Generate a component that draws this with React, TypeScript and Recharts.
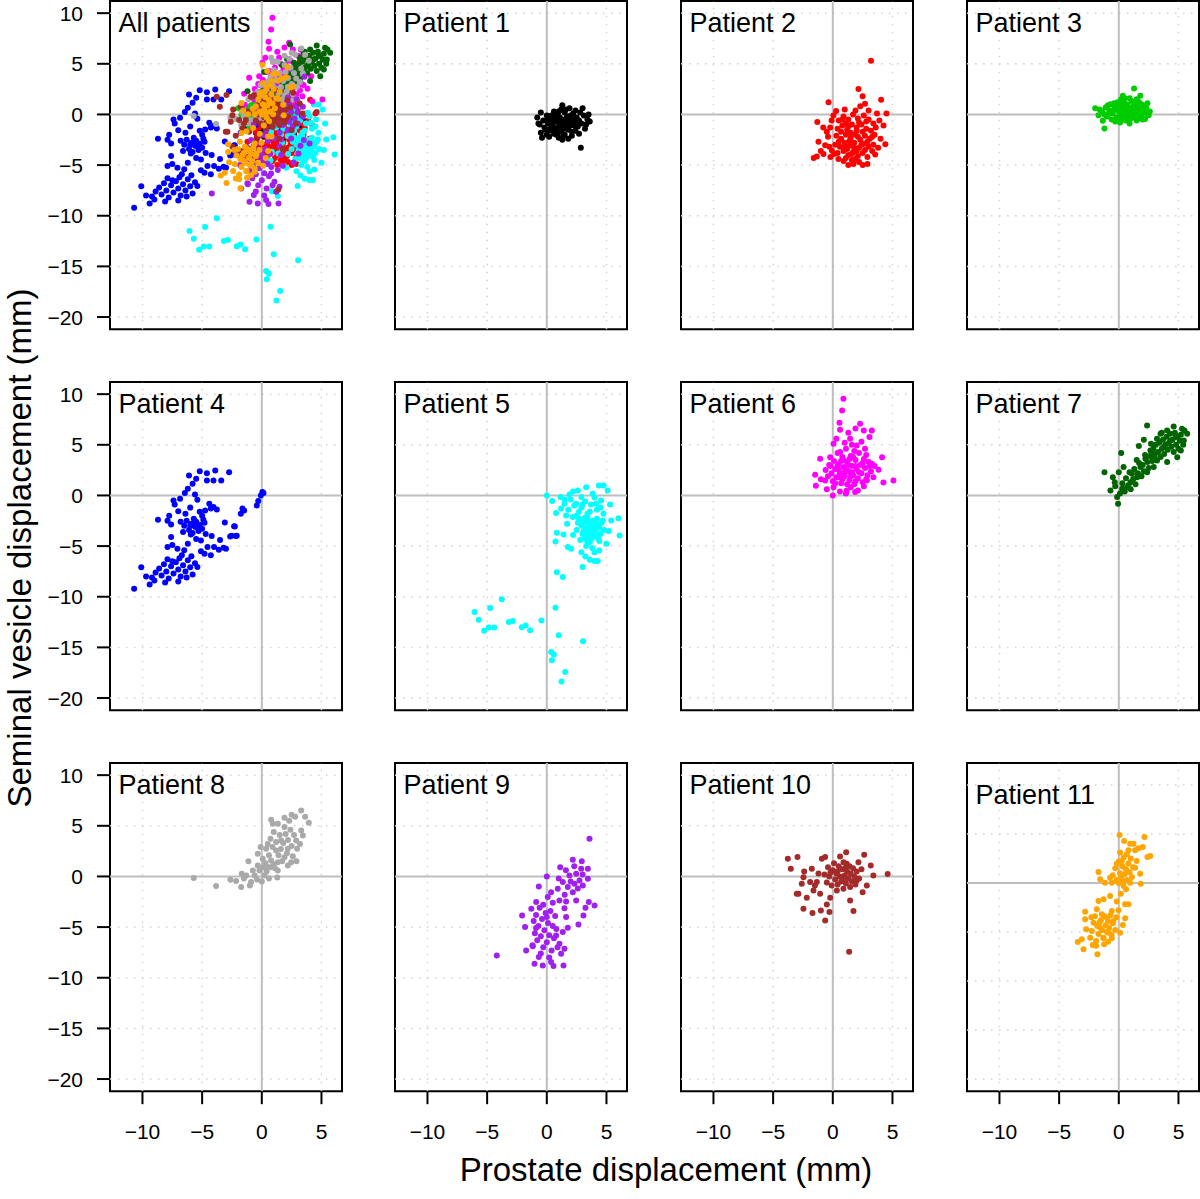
import React from "react";
import { ScatterChart, Scatter, XAxis, YAxis, ReferenceLine, ReferenceArea, ReferenceDot } from "recharts";

// displacement readings (mm): [prostate, seminal vesicle]
const p1 = [
  [-0.8, -0.3], [-0.6, -1.0], [-0.5, -1.8], [-0.3, -0.6], [-0.2, -1.3], [0.0, -0.1], [0.1, -0.9], [0.2, -1.6],
  [0.2, -2.2], [0.4, -0.4], [0.5, -1.1], [0.6, 0.3], [0.6, -1.9], [0.8, -0.7], [0.8, -1.4], [0.9, 0.0],
  [1.0, -2.3], [1.1, -0.3], [1.1, -1.0], [1.2, 0.5], [1.2, -1.7], [1.3, -0.6], [1.4, -1.3], [1.5, 0.2],
  [1.5, -2.0], [1.6, -0.9], [1.7, -0.2], [1.8, -1.5], [1.9, 0.6], [1.9, -0.6], [2.0, -1.1], [2.1, -2.1],
  [2.2, 0.1], [2.3, -0.8], [2.4, -1.6], [2.5, -0.3], [2.6, -1.2], [2.8, 0.2], [2.9, -0.9], [3.1, -0.1],
  [3.2, -1.4], [3.4, -0.5], [3.6, -0.7], [2.85, -3.3], [1.0, -1.2], [0.7, -0.2], [1.5, -0.5], [2.0, -0.1],
  [0.3, -1.4], [1.8, -2.4], [0.0, -2.0], [-0.4, -2.3], [2.7, -1.9], [3.0, 0.6], [1.3, 0.9], [0.9, -0.5],
  [1.7, -1.2], [2.2, -0.5], [0.5, -0.8], [1.4, -2.1], [2.4, 0.4], [0.1, -0.4], [-0.1, -1.5],
  [0.3, -0.9], [0.6, -1.5], [0.9, -1.8], [1.2, -0.8], [1.5, -1.4], [1.8, -0.4], [2.1, -1.7], [2.4, -1.2],
  [2.7, -0.6], [0.4, -0.1], [1.0, 0.3], [1.6, 0.5], [2.0, -0.9], [2.6, -0.9], [3.3, -1.0], [0.8, -2.0],
  [1.3, -2.5], [-0.7, -0.9], [-0.5, 0.2], [3.5, 0.0],
];

const p2 = [
  [3.2, 5.3], [2.15, 2.5], [-0.36, 1.2], [4.05, 1.45], [2.5, 1.8], [2.7, 1.05], [4.5, 0.1], [3.7, 0.1],
  [0.28, 0.33], [0.05, -0.1], [-1.3, -0.75], [-0.8, -1.3], [-0.22, -1.3], [-0.1, -0.6], [-1.2, -2.7],
  [-0.64, -3.05], [-1.6, -4.3], [-1.34, -4.15], [-0.78, -3.9], [-0.08, -3.55], [0.47, -4.4], [1.3, -5.0],
  [1.73, -4.9], [2.5, -5.0], [2.9, -4.9], [3.55, -3.95], [4.4, -2.95], [4.0, -2.4], [4.25, -1.1], [3.9, -0.6],
  [0.5, -0.6], [0.9, -0.2], [1.3, -0.5], [1.7, 0.0], [2.1, -0.4], [2.6, -0.1], [3.0, -0.5], [3.4, -0.9],
  [0.4, -1.4], [0.8, -1.1], [1.2, -1.5], [1.6, -1.0], [2.0, -1.3], [2.4, -1.0], [2.8, -1.4], [3.2, -1.6],
  [0.3, -2.1], [0.7, -2.4], [1.1, -2.0], [1.5, -2.3], [1.9, -2.0], [2.3, -2.5], [2.7, -2.1], [3.1, -2.4],
  [3.5, -2.0], [0.2, -3.0], [0.6, -3.2], [1.0, -2.8], [1.4, -3.1], [1.8, -2.8], [2.2, -3.3], [2.6, -2.9],
  [3.0, -3.2], [3.4, -3.0], [0.4, -3.8], [0.9, -3.6], [1.3, -4.0], [1.7, -3.7], [2.1, -4.1], [2.5, -3.8],
  [2.9, -4.2], [3.3, -3.6], [0.9, -4.6], [1.6, -4.5], [2.2, -4.7], [-0.4, -2.2], [-0.2, -4.2], [-1.0, -3.6],
  [1.0, 0.5], [1.9, 0.4], [2.3, 0.8], [3.0, 0.4], [1.5, -1.8], [2.5, -1.7], [2.0, -3.6], [1.2, -3.4],
  [0.7, -1.7], [1.1, -0.9], [1.4, -2.6], [1.8, -3.3], [2.1, -2.2], [2.4, -3.0], [2.7, -3.5], [1.6, -3.9],
  [1.0, -3.2], [0.5, -2.7], [2.9, -2.7], [3.3, -2.2], [2.0, -1.6], [1.3, -1.2], [0.8, -0.5], [2.2, -0.8],
  [2.8, -0.7], [3.6, -1.3], [1.9, -4.4], [1.1, -4.3], [-0.5, -1.7], [-0.3, -3.2], [3.8, -3.3], [0.1, -3.9],
];

const p3 = [
  [1.28, 2.57], [0.34, 1.84], [1.8, 1.84], [-1.98, 0.6], [-1.7, -0.07], [-1.34, -0.63], [-1.2, -1.38],
  [2.5, -0.07], [2.2, -0.46], [-1.4, 0.3], [-1.1, 0.7], [-1.0, -0.2], [-0.8, 0.4], [-0.7, 1.0], [-0.6, -0.5],
  [-0.5, 0.1], [-0.3, 0.7], [-0.2, -0.3], [-0.1, 1.2], [0.0, 0.3], [0.1, -0.8], [0.2, 0.8], [0.3, -0.2],
  [0.4, 1.4], [0.5, 0.4], [0.6, -0.6], [0.7, 1.0], [0.8, 0.0], [0.9, -0.9], [1.0, 0.6], [1.1, 1.3],
  [1.2, -0.3], [1.3, 0.3], [1.4, 0.9], [1.5, -0.6], [1.6, 0.1], [1.7, 1.2], [1.8, 0.5], [1.9, -0.2],
  [2.0, 0.9], [2.1, 0.2], [2.3, 0.6], [2.4, 1.1], [0.0, -0.4], [0.3, 0.5], [0.6, 0.9], [0.9, 0.3],
  [1.2, 0.8], [-0.4, 0.5], [0.7, -0.2], [1.0, -0.4], [-0.9, 0.0], [0.5, 1.6], [1.5, 1.5], [-0.3, -0.7],
  [1.4, -0.1], [0.2, 0.1], [2.6, 0.3], [0.8, -0.6], [-1.2, 0.0], [-0.9, 0.9], [-0.6, 0.3], [-0.4, 1.1],
  [-0.2, 0.6], [0.0, 1.0], [0.1, -0.1], [0.3, 1.2], [0.4, -0.5], [0.6, 0.2], [0.8, 0.7], [0.9, 1.6],
  [1.0, -0.1], [1.1, 0.4], [1.3, 1.1], [1.4, 0.5], [1.6, 0.7], [1.7, -0.4], [1.9, 1.0], [2.2, 0.4],
  [2.0, -0.5], [0.5, -0.2], [-0.1, -0.6], [0.2, 1.5], [1.2, 0.1], [-1.6, 0.5], [2.4, 0.0], [0.7, 0.5],
];

const p4 = [
  [0.14, 0.23], [-0.08, 0], [-0.3, -0.56], [-0.42, -0.99], [0.05, 0.35], [-1.48, -1.48], [-1.76, -1.8],
  [-1.62, -1.3], [-2.32, -3.03], [-2.1, -3.98], [-2.54, -3.98], [-3.1, -2.66], [-2.74, 2.3], [-3.9, 2.47],
  [-4.6, 2.2], [-5.2, 2.4], [-6.1, 1.97], [-4.6, 1.48], [-4.05, 1.48], [-3.4, 1.48], [-5.5, 1.64],
  [-5.8, 1.15], [-6.2, 0.66], [-6.45, 0.23], [-5.6, 0.1], [-5.4, -0.43], [-7.4, -0.49], [-6.85, -0.33],
  [-7.3, -0.89], [-7.0, -1.55], [-7.76, -2.0], [-8.7, -2.4], [-7.9, -2.5], [-7.6, -2.86], [-4.4, -0.82],
  [-4.05, -1.15], [-3.77, -1.38], [-4.27, -1.3], [-4.75, -1.48], [-6.8, -2.6], [-6.5, -3.0], [-6.3, -2.5],
  [-6.1, -3.4], [-5.9, -2.8], [-5.8, -3.7], [-5.6, -3.1], [-5.5, -2.6], [-5.3, -3.5], [-5.2, -2.9],
  [-5.0, -3.3], [-4.8, -2.7], [-4.7, -3.8], [-6.0, -3.0], [-5.4, -3.2], [-6.6, -3.6], [-4.9, -2.4],
  [-5.7, -2.3], [-7.6, -4.1], [-7.5, -4.9], [-7.9, -5.1], [-7.07, -5.26], [-6.5, -5.4], [-5.5, -4.3],
  [-5.1, -4.44], [-4.55, -5.1], [-4.0, -5.1], [-3.6, -5.36], [-3.2, -5.16], [-3.0, -5.26], [-4.8, -5.76],
  [-4.27, -5.9], [-5.1, -5.5], [-5.95, -3.85], [-6.2, -4.77], [-2.26, -3.06], [-2.65, -4.05], [-2.18, -4.0],
  [-10.1, -7.1], [-10.7, -9.2], [-9.7, -8.0], [-9.4, -8.8], [-9.0, -8.4], [-5.8, -7.8], [-5.4, -7.07],
  [-8.6, -7.2], [-8.4, -7.9], [-8.2, -6.8], [-8.0, -7.5], [-7.8, -8.2], [-7.6, -7.0], [-7.4, -7.7],
  [-7.2, -6.6], [-7.0, -7.3], [-6.8, -8.0], [-6.6, -6.9], [-6.4, -7.5], [-6.2, -6.4], [-6.0, -7.1],
  [-6.9, -6.2], [-7.5, -6.5], [-8.9, -7.6], [-9.2, -8.1], [-8.1, -8.6], [-7.0, -8.5], [-6.3, -8.1],
  [-5.6, -6.7], [-5.9, -6.0], [-6.7, -5.9], [-7.9, -6.3], [-6.0, -1.2], [-6.4, -1.8], [-5.2, -1.6],
  [-5.0, -2.0], [-3.5, -4.4], [-4.2, -4.0],
];

const p5 = [
  [0, 0], [0.45, -0.56], [0.78, -1.74], [0.84, -3.68], [0.73, -4.54], [0.84, -7.57], [1.34, -8.06],
  [3.3, 0.82], [4.36, 0.99], [4.75, 0.99], [5.1, 0.49], [5.3, -0.89], [5.4, -2.47], [6.0, -2.24],
  [6.1, -3.95], [5.2, -3.52], [5.0, -4.77], [4.4, -5.43], [4.27, -6.48], [4.0, -6.48], [3.6, -6.35],
  [3.0, -7.07], [3.24, -6.02], [1.76, -5.1], [2.04, -5.26], [1.4, -3.85], [1.15, -0.16], [1.48, -0.82],
  [1.9, 0.1], [1.2, -1.3], [1.62, -1.97], [2.18, -2.14], [2.46, -0.82], [2.9, -0.16], [3.85, 0.16],
  [4.13, -0.82], [4.55, -0.49], [4.75, -1.8], [4.7, -2.47], [2.7, -2.3], [2.9, -3.0], [3.0, -3.8],
  [3.1, -2.6], [3.2, -4.3], [3.3, -3.3], [3.4, -2.1], [3.5, -3.9], [3.5, -2.8], [3.6, -4.6], [3.7, -3.5],
  [3.8, -2.5], [3.9, -3.1], [3.9, -4.1], [4.0, -2.9], [4.1, -3.6], [4.2, -2.3], [4.3, -4.2], [4.4, -3.2],
  [4.5, -3.8], [3.3, -5.0], [3.8, -5.2], [2.8, -4.4], [2.5, -3.4], [4.6, -2.7], [3.6, -1.6], [2.9, -1.2],
  [2.3, -1.0], [2.0, -0.4], [3.2, -0.6], [3.7, -0.9], [2.6, 0.5], [1.7, -2.8], [2.2, -3.9], [4.2, -1.4],
  [3.4, -1.8], [4.0, -5.6], [2.9, -5.6], [1.8, -1.4], [2.5, -2.0], [3.1, -3.5], [3.4, -2.5], [3.6, -3.0],
  [3.8, -3.8], [4.0, -3.3], [4.2, -4.0], [3.3, -4.0], [3.7, -4.3], [4.1, -2.6], [3.0, -2.9], [3.5, -3.5],
  [3.9, -2.7], [4.3, -3.0], [3.2, -2.2], [4.4, -4.5], [3.4, -4.6], [2.6, -2.7], [4.8, -3.4], [2.7, -1.6],
  [3.0, -0.9], [1.5, -0.4], [2.2, 0.4], [4.0, -0.2], [4.5, -1.2],
  [-3.77, -10.26], [-4.75, -11.1], [-6.06, -11.5], [-5.7, -12.27], [-5.25, -13.36], [-4.86, -13.03],
  [-4.4, -13.03], [-3.18, -12.5], [-2.85, -12.4], [-2.1, -13.0], [-1.78, -12.83], [-1.4, -13.3],
  [-0.45, -12.34], [0.73, -11.09], [1.0, -13.8], [3.04, -14.4], [0.36, -15.46], [0.59, -15.7],
  [0.42, -16.28], [1.54, -17.43], [1.23, -18.36],
];

const p6 = [
  [0.89, 9.54], [0.78, 8.39], [0.56, 7.17], [0.61, 6.48], [0, 0], [-1.48, 2.04], [-1.42, 0.95], [-1.0, 1.61],
  [5.08, 1.48], [4.24, 1.28], [4.13, 3.78], [3.27, 3.12], [3.83, 2.53], [2.85, 1.48], [2.29, 7.07],
  [2.6, 6.4], [3.27, 6.4], [3.07, 5.76], [1.87, 0.33], [1.17, 0.49], [0.06, 0.82], [-0.64, 1.48],
  [-1.06, 3.62], [-0.22, 3.78], [0.06, 5.1], [0.61, 4.28], [1.45, 5.6], [2.0, 4.93], [2.7, 4.6],
  [-0.6, 2.5], [-0.4, 1.9], [-0.3, 3.0], [-0.1, 2.2], [0.0, 1.4], [0.1, 3.4], [0.2, 2.6], [0.3, 1.8],
  [0.4, 4.2], [0.5, 3.1], [0.6, 2.2], [0.7, 1.2], [0.8, 3.8], [0.9, 2.8], [1.0, 1.9], [1.1, 4.6],
  [1.2, 3.3], [1.3, 2.4], [1.4, 1.5], [1.5, 3.9], [1.6, 2.9], [1.7, 2.0], [1.8, 1.1], [1.9, 3.5],
  [2.0, 2.6], [2.1, 1.7], [2.2, 4.2], [2.3, 3.0], [2.4, 2.2], [2.5, 1.3], [2.6, 3.6], [2.7, 2.7],
  [2.9, 2.0], [3.0, 3.3], [3.2, 2.4], [3.4, 1.8], [3.5, 2.9], [1.0, 5.2], [1.6, 5.0], [2.4, 5.3],
  [1.3, 6.2], [1.9, 6.6], [0.3, 5.6], [-0.5, 0.6], [0.6, 0.4], [1.5, 0.8], [2.1, 0.5], [2.6, 0.9],
  [1.1, 0.2], [0.4, 2.9], [1.4, 3.6], [1.8, 4.4], [2.8, 4.0], [0.9, 3.5], [1.2, 1.1], [0.5, 2.5],
  [0.8, 1.6], [1.1, 2.7], [1.3, 3.0], [1.6, 2.3], [1.9, 2.9], [2.2, 2.3], [0.7, 3.4], [1.7, 3.8],
  [2.5, 3.2], [0.2, 1.2], [1.0, 2.3], [1.5, 1.9], [2.8, 1.6], [3.1, 2.9], [-0.2, 2.9], [0.6, 1.8], [1.9, 1.4],
];

const p7 = [
  [2.37, 6.9], [4.6, 6.8], [5.3, 6.58], [5.73, 6.09], [5.45, 5.43], [5.2, 4.44], [4.9, 3.78], [4.05, 3.29],
  [0.2, 4.2], [-1.2, 2.3], [-0.34, 1.3], [0, 2.3], [-0.7, 0.5], [-0.14, -0.16], [-0.06, -0.82], [0.28, 0.66],
  [0.98, 1.3], [1.54, 1.8], [1.82, 2.8], [1.68, 4.87], [2.1, 5.5], [2.65, 4.44], [3.2, 5.6], [3.5, 6.09],
  [4.05, 6.4], [0.7, 0.82], [1.1, 2.14], [2.23, 3.62], [2.93, 4.1], [3.77, 4.77], [4.33, 5.43], [4.75, 5.76],
  [2.37, 2.3], [2.93, 2.8], [3.2, 3.45], [0.1, 0.2], [0.3, 1.2], [0.5, 0.4], [0.6, 1.7], [0.8, 1.0],
  [0.9, 2.3], [1.0, 0.6], [1.2, 1.6], [1.3, 2.6], [1.4, 1.1], [1.6, 2.2], [1.7, 3.2], [1.9, 1.9],
  [2.0, 3.0], [2.1, 2.4], [2.2, 4.0], [2.4, 3.3], [2.5, 2.7], [2.6, 3.9], [2.8, 3.4], [2.9, 4.6],
  [3.0, 3.9], [3.1, 5.0], [3.3, 4.3], [3.4, 5.2], [3.5, 3.8], [3.6, 4.6], [3.7, 5.5], [3.8, 4.1],
  [3.9, 5.0], [4.0, 5.8], [4.1, 4.5], [4.2, 5.2], [4.3, 6.1], [4.4, 4.8], [4.5, 5.5], [4.6, 4.3],
  [4.7, 6.2], [4.8, 5.0], [4.9, 5.8], [5.0, 4.6], [5.1, 5.4], [5.2, 6.0], [5.4, 5.0], [5.5, 6.4],
  [3.6, 6.2], [2.7, 5.1], [1.5, 3.5], [0.4, 2.8], [-0.3, 0.9], [-0.5, 1.8],
];

const p8 = [
  [-5.7, -0.16], [-3.83, -0.95], [-2.63, -0.33], [-2.15, -0.46], [-1.73, -1.05], [-1.12, 1.51], [-0.9, -0.56],
  [0.78, 5.6], [3.3, 6.5], [2.8, 5.9], [3.63, 5.9], [3.94, 5.3], [3.3, 4.54], [3.44, 4.05], [2.88, 3.55],
  [2.96, 2.73], [2.46, 1.41], [2.18, 1.09], [1.34, 0.59], [0.92, 5.2], [0.73, 3.72], [0.36, 2.73],
  [0.08, 1.74], [-0.34, 2.24], [-0.2, 0.59], [-0.6, 0.1], [0.22, 0.1], [1.34, 5.2], [1.9, 4.87], [2.3, 5.5],
  [1.62, 3.55], [1.2, 2.56], [0.78, 1.58], [2.18, 2.73], [1.9, 1.9], [1.34, 1.41], [0.5, 0.92], [-0.34, 1.09],
  [-0.75, 0.59], [-1.3, 0.1], [-1.68, 0.26], [0.3, 1.3], [0.6, 2.1], [0.9, 2.9], [1.0, 1.2], [1.2, 3.4],
  [1.4, 2.1], [1.5, 4.1], [1.6, 2.7], [1.7, 1.5], [1.8, 3.3], [2.0, 4.2], [2.1, 2.3], [2.2, 3.6],
  [2.4, 4.6], [2.5, 3.0], [2.6, 2.0], [2.7, 4.1], [0.4, 0.5], [0.7, 0.9], [1.1, 0.8], [0.1, 0.9],
  [-0.4, -0.3], [0.0, -0.5], [0.6, -0.2], [-1.0, -0.9], [-1.5, -0.2], [1.9, 5.8], [2.5, 6.1], [1.0, 4.4],
  [0.5, 3.2], [-0.1, 2.9], [1.3, -0.1], [2.9, 1.5], [3.2, 3.2],
];

const p9 = [
  [3.58, 3.72], [2.18, 1.64], [2.93, 1.51], [1.12, 0.92], [2.88, 0.76], [3.44, 0.76], [0, 0], [-0.67, -0.99],
  [3.44, -0.23], [3.02, -0.89], [3.52, -2.53], [4.0, -2.86], [3.24, -3.09], [3.07, -3.85], [2.65, -4.74],
  [1.76, -5.07], [1.34, -5.49], [1.48, -7.14], [1.4, -8.78], [0.56, -8.85], [0.36, -8.45], [-0.34, -8.78],
  [-1.03, -8.62], [-0.67, -7.96], [-1.73, -7.3], [-1.17, -6.9], [-1.82, -5.0], [-2.07, -3.85], [-0.89, -2.53],
  [-4.19, -7.8], [1.2, -7.63], [1.06, -6.64], [0.78, -5.82], [1.62, -4.01], [1.48, -3.13], [1.06, -2.37],
  [1.62, -2.47], [2.46, -2.37], [2.18, -1.55], [1.76, -1.05], [1.34, -0.56], [1.9, 0.1], [2.46, 0.26],
  [2.74, -0.39], [2.32, -0.72], [0.92, -1.22], [0.36, -1.55], [0.08, -2.04], [-1.3, -3.2], [-1.1, -4.4],
  [-1.0, -5.6], [-0.9, -3.8], [-0.8, -6.3], [-0.7, -4.9], [-0.6, -3.1], [-0.5, -5.9], [-0.4, -4.2],
  [-0.3, -7.0], [-0.2, -5.3], [-0.1, -3.6], [0.0, -6.5], [0.1, -4.6], [0.2, -5.8], [0.3, -3.4], [0.4, -7.3],
  [0.5, -4.9], [0.6, -6.1], [0.7, -3.9], [0.8, -5.2], [0.9, -7.0], [-1.2, -6.8], [-0.5, -7.6], [0.2, -8.0],
  [-0.9, -5.1], [0.0, -4.0], [-0.3, -2.8], [0.5, -2.6], [1.5, -1.8], [2.0, -0.5], [2.6, -1.2], [1.0, -0.2],
  [2.3, 1.0], [3.0, 0.2], [1.6, 0.6],
];

const p10 = [
  [-3.77, 1.74], [-2.96, 1.91], [-3.52, 0.76], [-2.4, 0.49], [-1.76, 0.76], [-2.46, -0.07], [-2.6, -0.72],
  [-2.88, -1.71], [-3.02, -1.71], [-2.18, -2.1], [-2.46, -3.19], [-1.7, -3.62], [-1.0, -3.36], [-0.64, -4.34],
  [-0.28, -3.52], [-0.5, -2.76], [-0.22, -2.1], [1.45, -2.37], [1.73, -3.42], [1.37, -7.43], [1.12, 2.4],
  [2.63, 2.14], [2.15, 1.41], [3.18, 1.09], [3.4, 0.1], [4.6, 0.23], [2.85, -0.89], [2.5, -1.55], [2.0, -0.39],
  [1.45, -1.05], [0.89, -1.22], [0.34, -1.38], [-0.92, 1.74], [-0.64, 1.91], [0.61, 1.97], [1.17, 1.25],
  [-1.34, -0.56], [-1.62, -1.38], [-1.06, -1.71], [-1.9, -0.56], [-0.7, 0.2], [-0.5, -0.6], [-0.4, 0.9],
  [-0.3, 0.0], [-0.1, -0.9], [0.0, 0.6], [0.1, 1.3], [0.2, -0.3], [0.3, 0.3], [0.4, -0.8], [0.5, 1.0],
  [0.6, 0.0], [0.7, -0.5], [0.8, 0.7], [0.9, 1.4], [1.0, 0.1], [1.1, -0.7], [1.2, 0.5], [1.3, -0.2],
  [1.4, 1.0], [1.5, 0.3], [1.6, -0.5], [1.7, 0.8], [1.8, 0.0], [1.9, -0.8], [2.0, 0.5], [2.2, -0.2],
  [2.4, 0.7], [0.4, 0.5], [0.9, -0.2], [1.1, 0.9], [-0.2, 0.4], [-1.2, 0.3], [-1.5, -0.9],
];

const p11 = [
  [0.06, 4.9], [0.45, 4.29], [0.95, 4.01], [1.23, 4.01], [2.15, 4.69], [2.01, 3.67], [1.65, 3.54], [1.37, 3.33],
  [0.81, 3.33], [0.11, 3.1], [2.4, 2.65], [2.63, 2.76], [0.67, 2.93], [0.25, 2.24], [-0.17, 1.97], [1.5, 2.24],
  [1.37, 1.56], [1.79, 0.95], [1.84, -0.07], [0.95, 0.03], [-0.73, 0.54], [-1.7, 1.12], [-1.56, 0.37],
  [-1.15, 0.03], [-0.59, 0.03], [0.34, 0.14], [0.61, -0.65], [0.17, -1.09], [-0.17, -1.9], [0.53, -2.18],
  [0.81, -2.18], [-0.73, -1.33], [-1.28, -1.67], [-1.7, -1.84], [-1.84, -2.69], [-2.82, -2.93], [-2.82, -3.71],
  [-0.59, -2.86], [-0.03, -2.79], [0.53, -3.61], [0.34, -4.29], [0.11, -5.07], [-0.87, -5.07], [-1.56, -4.56],
  [-2.12, -4.05], [-2.26, -4.9], [-2.74, -4.73], [-2.4, -5.58], [-3.1, -5.75], [-3.44, -6.02], [-2.96, -6.77],
  [-2.18, -6.33], [-1.9, -5.92], [-1.28, -5.58], [-0.59, -5.65], [-1.23, -6.26], [-1.79, -7.28], [-0.45, -3.88],
  [-1.0, -3.54], [-1.42, -3.2], [-0.5, 0.8], [-0.3, 1.5], [-0.2, 0.3], [0.0, 2.2], [0.1, 1.0], [0.2, 0.5],
  [0.3, 1.7], [0.4, 2.6], [0.5, 0.9], [0.6, 1.4], [0.7, 0.3], [0.8, 2.0], [0.9, 1.1], [1.0, 2.5], [1.1, 0.6],
  [1.2, 1.6], [0.0, 0.0], [0.4, -0.3], [-2.0, -3.4], [-1.8, -4.4], [-1.7, -5.2], [-1.5, -3.8], [-1.4, -4.8],
  [-1.3, -5.6], [-1.2, -3.4], [-1.1, -4.3], [-1.0, -5.0], [-0.9, -3.9], [-0.8, -4.6], [-0.7, -3.3],
  [-0.6, -5.3], [-0.5, -4.1], [-0.3, -4.8], [-0.2, -3.5], [-1.6, -4.0], [-0.9, -6.0], [-2.3, -3.5], [-1.9, -6.4],
];

const patients = [p1, p2, p3, p4, p5, p6, p7, p8, p9, p10, p11].map((arr) =>
  arr.map(([x, y]) => ({ x, y }))
);
const colors = ["#000000", "#FF0000", "#00CD00", "#0000FF", "#00FFFF", "#FF00FF", "#006400", "#A9A9A9", "#A020F0", "#A52A2A", "#FFA500"];
const titles = ["All patients", "Patient 1", "Patient 2", "Patient 3", "Patient 4", "Patient 5", "Patient 6",
  "Patient 7", "Patient 8", "Patient 9", "Patient 10", "Patient 11"];

const xTicks = [-10, -5, 0, 5];
const yTicks = [-20, -15, -10, -5, 0, 5, 10];
const xGrid = [-10, -5, 5];
const yGrid = [-20, -15, -10, -5, 5, 10];

const X_DOMAIN = [-12.72, 6.72];
const Y_DOMAIN = [-21.2, 11.2];
const Y_DOMAIN_11 = [-21.24, 12.24]; // last panel was drawn with a slightly taller ylim

const FONT = '"Liberation Sans", Arial, Helvetica, sans-serif';
const fmt = (v: number) => (v < 0 ? `\u2212${-v}` : `${v}`);

// plot box placement (px)
const colLeft = [109.5, 395.2, 680.9, 966.6];
const rowTop = [0.5, 381.5, 762.5];
const BOX_W = 232;
const BOX_H = 328.2;
const AX_W = 100;
const AX_H = 60;
const PAD = 5;

const XTick = (p: any) => (
  <text x={p.x} y={p.y} dy="0.71em" textAnchor="middle" fontSize={21} fontFamily={FONT} fill="#000">
    {fmt(p.payload.value)}
  </text>
);
const YTick = (p: any) => (
  <text x={p.x} y={p.y} dy="0.36em" textAnchor="end" fontSize={21} fontFamily={FONT} fill="#000">
    {fmt(p.payload.value)}
  </text>
);

function Panel({ index }: { index: number }) {
  const row = Math.floor(index / 4);
  const col = index % 4;
  const series = index === 0 ? patients.map((_, i) => i) : [index - 1];
  const yDomain = index === 11 ? Y_DOMAIN_11 : Y_DOMAIN;
  const showX = row === 2;
  const showY = col === 0;

  return (
    <div style={{ position: "absolute", left: colLeft[col] - AX_W, top: rowTop[row] - PAD }}>
      <ScatterChart
        width={AX_W + BOX_W + PAD}
        height={PAD + BOX_H + AX_H}
        margin={{ top: PAD, right: PAD, bottom: 0, left: 0 }}
      >
        <XAxis
          type="number"
          dataKey="x"
          domain={X_DOMAIN}
          ticks={xTicks}
          interval={0}
          allowDataOverflow
          axisLine={false}
          tickLine={{ stroke: "#000", strokeWidth: 2 }}
          tickSize={13}
          tickMargin={20}
          height={AX_H}
          tick={showX ? XTick : false}
        />
        <YAxis
          type="number"
          dataKey="y"
          domain={yDomain}
          ticks={yTicks}
          interval={0}
          allowDataOverflow
          axisLine={false}
          tickLine={{ stroke: "#000", strokeWidth: 2 }}
          tickSize={13}
          tickMargin={14}
          width={AX_W}
          tick={showY ? YTick : false}
        />
        {xGrid.map((v) => (
          <ReferenceLine key={`gx${v}`} x={v} stroke="#D3D3D3" strokeWidth={1.5} strokeDasharray="1.5 6.5" />
        ))}
        {yGrid.map((v) => (
          <ReferenceLine key={`gy${v}`} y={v} stroke="#D3D3D3" strokeWidth={1.5} strokeDasharray="1.5 6.5" />
        ))}
        <ReferenceLine x={0} stroke="#BEBEBE" strokeWidth={2} />
        <ReferenceLine y={0} stroke="#BEBEBE" strokeWidth={2} />
        {series.map((s) => (
          <Scatter
            key={s}
            data={patients[s]}
            isAnimationActive={false}
            shape={(p: any) => <circle cx={p.cx} cy={p.cy} r={3} fill={colors[s]} />}
          />
        ))}
        <ReferenceArea
          x1={X_DOMAIN[0]}
          x2={X_DOMAIN[1]}
          y1={yDomain[0]}
          y2={yDomain[1]}
          fill="none"
          fillOpacity={0}
          stroke="#000"
          strokeWidth={2}
          ifOverflow="visible"
        />
        <ReferenceDot
          x={-12}
          y={9}
          r={0}
          shape={(p: any) => (
            <text x={p.cx} y={p.cy} fontSize={27} fontFamily={FONT} fill="#000" dominantBaseline="central">
              {titles[index]}
            </text>
          )}
        />
      </ScatterChart>
    </div>
  );
}

export default function App() {
  return (
    <div style={{ position: "absolute", left: 0, top: 0, width: 1200, height: 1199, background: "#fff" }}>
      {titles.map((_, i) => (
        <Panel key={i} index={i} />
      ))}
      <svg width={1200} height={1199} style={{ position: "absolute", left: 0, top: 0, pointerEvents: "none" }}>
        <text x={666} y={1181} textAnchor="middle" fontSize={33} fontFamily={FONT} fill="#000">
          Prostate displacement (mm)
        </text>
        <text
          x={0}
          y={0}
          transform="translate(31,548) rotate(-90)"
          textAnchor="middle"
          fontSize={33}
          fontFamily={FONT}
          fill="#000"
        >
          Seminal vesicle displacement (mm)
        </text>
      </svg>
    </div>
  );
}
